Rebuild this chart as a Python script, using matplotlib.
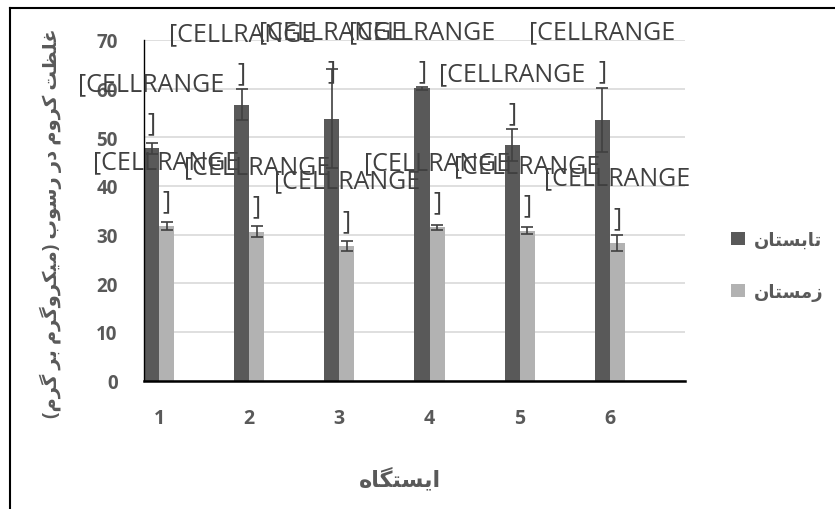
import matplotlib
matplotlib.use('Agg')
import matplotlib.pyplot as plt
import numpy as np
from matplotlib.lines import Line2D

# ---------------------------------------------------------------------------
# Data
# ---------------------------------------------------------------------------
stations = ['1', '2', '3', '4', '5', '6']
summer = [47.7, 56.7, 53.8, 60.1, 48.4, 53.6]
summer_err = [1.2, 3.2, 10.2, 0.3, 3.3, 6.6]
winter = [31.7, 30.6, 27.7, 31.5, 30.8, 28.3]
winter_err = [0.8, 1.2, 1.0, 0.5, 0.7, 1.6]
series_names = ['تابستان', 'زمستان']
y_ticks = [0, 10, 20, 30, 40, 50, 60, 70]
y_title = 'غلظت کروم در رسوب (میکروگرم بر گرم)'
x_title = 'ایستگاه'
data_label = '[CELLRANGE\n]'

DARK = '#595959'
LIGHT = '#b2b2b2'
TEXT = '#595959'

plt.rcParams['font.family'] = ['Open Sans', 'DejaVu Sans']

# ---------------------------------------------------------------------------
# Minimal Persian shaping (matplotlib 3.10 draws glyphs without joining/RTL)
# (isolated, final, initial, medial); None -> joins only to the right
# ---------------------------------------------------------------------------
FORMS = {
    'ا': ('\uFE8D', '\uFE8E', None, None),
    'ب': ('\uFE8F', '\uFE90', '\uFE91', '\uFE92'),
    'ت': ('\uFE95', '\uFE96', '\uFE97', '\uFE98'),
    'د': ('\uFEA9', '\uFEAA', None, None),
    'ر': ('\uFEAD', '\uFEAE', None, None),
    'ز': ('\uFEAF', '\uFEB0', None, None),
    'س': ('\uFEB1', '\uFEB2', '\uFEB3', '\uFEB4'),
    'ظ': ('\uFEC5', '\uFEC6', '\uFEC7', '\uFEC8'),
    'غ': ('\uFECD', '\uFECE', '\uFECF', '\uFED0'),
    'ل': ('\uFEDD', '\uFEDE', '\uFEDF', '\uFEE0'),
    'م': ('\uFEE1', '\uFEE2', '\uFEE3', '\uFEE4'),
    'ن': ('\uFEE5', '\uFEE6', '\uFEE7', '\uFEE8'),
    'ه': ('\uFEE9', '\uFEEA', '\uFEEB', '\uFEEC'),
    'و': ('\uFEED', '\uFEEE', None, None),
    'ک': ('\uFB8E', '\uFB8F', '\uFB90', '\uFB91'),
    'گ': ('\uFB92', '\uFB93', '\uFB94', '\uFB95'),
    'ی': ('\uFBFC', '\uFBFD', '\uFBFE', '\uFBFF'),
}


def shape_fa(text):
    out = []
    for i, ch in enumerate(text):
        forms = FORMS.get(ch)
        if forms is None:
            out.append(ch)
            continue
        prev = text[i - 1] if i > 0 else ''
        nxt = text[i + 1] if i < len(text) - 1 else ''
        join_prev = prev in FORMS and FORMS[prev][2] is not None
        join_next = forms[2] is not None and nxt in FORMS
        if join_prev and join_next:
            out.append(forms[3])
        elif join_prev:
            out.append(forms[1])
        elif join_next:
            out.append(forms[2])
        else:
            out.append(forms[0])
    vis = ''.join(reversed(out))
    return vis.translate(str.maketrans('()', ')('))


# ---------------------------------------------------------------------------
# Figure
# ---------------------------------------------------------------------------
W, H = 835, 510
fig = plt.figure(figsize=(W / 100, H / 100), dpi=100)
ax = fig.add_axes([144 / W, 1 - 381.5 / H, (685 - 144) / W, (381.5 - 41) / H])

x = np.arange(1, len(stations) + 1)
bw = 1 / 6

err_kw = dict(ecolor='#404040', elinewidth=1.2, capsize=4, capthick=1.2, zorder=3)
ax.bar(x - bw / 2, summer, bw, color=DARK, yerr=summer_err, error_kw=err_kw,
       label=shape_fa(series_names[0]), zorder=2)
ax.bar(x + bw / 2, winter, bw, color=LIGHT, yerr=winter_err, error_kw=err_kw,
       label=shape_fa(series_names[1]), zorder=2)

ax.set_xlim(1 - bw, len(stations) + 5 * bw)
ax.set_ylim(0, 70)
ax.set_yticks(y_ticks)
ax.set_xticks(x)
ax.set_xticklabels(stations)
ax.yaxis.grid(True, color='#d9d9d9', lw=1.2, zorder=0)
ax.set_axisbelow(True)
for s in ['top', 'right']:
    ax.spines[s].set_visible(False)
ax.spines['left'].set_color('black')
ax.spines['left'].set_linewidth(1.0)
ax.spines['bottom'].set_color('black')
ax.spines['bottom'].set_linewidth(1.8)
ax.tick_params(length=0)
ax.tick_params(axis='y', pad=19, labelsize=13.5, labelcolor=TEXT)
ax.tick_params(axis='x', pad=20, labelsize=14, labelcolor=TEXT)
for t in ax.get_xticklabels() + ax.get_yticklabels():
    t.set_fontweight('bold')

# data labels: above the bar / error bar, pushed down from the chart top
to_px = ax.transData
from_px = ax.transData.inverted()
label_h = 58
top_limit = H - 22
for xs, vals, errs in [(x - bw / 2, summer, summer_err), (x + bw / 2, winter, winter_err)]:
    for xi, v, e in zip(xs, vals, errs):
        bar_top = to_px.transform((xi, v))[1]
        err_top = to_px.transform((xi, v + e))[1]
        bottom = max(bar_top + 17, err_top + 8)
        if bottom + label_h > top_limit:
            bottom = top_limit - label_h
        y_lab = from_px.transform((0, bottom - 4))[1]
        ax.text(xi, y_lab, data_label, ha='center', va='bottom', fontsize=18,
                color='#404040', linespacing=1.75, clip_on=False, zorder=4,
                multialignment='center')

# axis titles
fig.text(51 / W, 1 - 223 / H, shape_fa(y_title), rotation=90, ha='center', va='center',
         fontsize=14, fontweight='bold', color=TEXT)
fig.text(400 / W, 1 - 480 / H, shape_fa(x_title), ha='center', va='center',
         fontsize=16, fontweight='bold', color=TEXT)

# legend
leg = fig.legend(loc='center left', bbox_to_anchor=(722 / W, 1 - 267 / H), frameon=False,
                 fontsize=13, labelspacing=1.9, handlelength=0.75, handleheight=0.75,
                 handletextpad=0.5, borderpad=0)
for t in leg.get_texts():
    t.set_fontweight('bold')
    t.set_color(TEXT)

# chart frame (only top and left edges fall inside the picture)
fig.add_artist(Line2D([10 / W, 1.0], [1 - 9 / H, 1 - 9 / H], color='black', lw=1.5,
                      transform=fig.transFigure))
fig.add_artist(Line2D([10 / W, 10 / W], [0.0, 1 - 9 / H], color='black', lw=1.5,
                      transform=fig.transFigure))

fig.savefig('out.png', dpi=100)
